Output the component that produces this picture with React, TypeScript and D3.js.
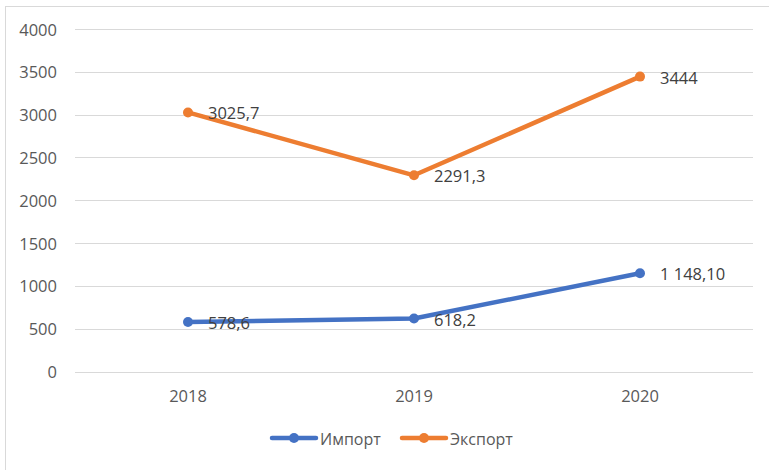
import React from "react";
import * as d3 from "d3";

const years = ["2018", "2019", "2020"];
const importValues = [578.6, 618.2, 1148.1];
const exportValues = [3025.7, 2291.3, 3444];
const importLabels = ["578,6", "618,2", "1 148,10"];
const exportLabels = ["3025,7", "2291,3", "3444"];
const yTicks = [0, 500, 1000, 1500, 2000, 2500, 3000, 3500, 4000];
const seriesNames = ["Импорт", "Экспорт"];

const W = 769;
const H = 470;
const FONT = "'Open Sans', 'Noto Sans', sans-serif";

export default function App() {
  const x = d3.scaleBand().domain(years).range([75, 753]);
  const y = d3.scaleLinear().domain([0, 4000]).range([371.5, 29]);
  const cx = (d: string) => (x(d) as number) + x.bandwidth() / 2;
  const line = d3
    .line<number>()
    .x((_, i) => cx(years[i]))
    .y((v) => y(v))
    .curve(d3.curveLinear);

  const series = [
    { name: seriesNames[0], values: importValues, labels: importLabels, color: "#4472C4" },
    { name: seriesNames[1], values: exportValues, labels: exportLabels, color: "#ED7D31" },
  ];

  const legendItems = [
    { x0: 272, name: seriesNames[0], color: "#4472C4" },
    { x0: 402, name: seriesNames[1], color: "#ED7D31" },
  ];

  return (
    <svg
      width={W}
      height={H}
      style={{ position: "absolute", left: 0, top: 0, background: "#fff" }}
      fontFamily={FONT}
    >
      <rect x={5.5} y={6.5} width={W + 10} height={H + 10} fill="#fff" stroke="#d9d9d9" strokeWidth={1} />
      {yTicks.map((t) => (
        <g key={t}>
          <line x1={75} x2={753} y1={Math.round(y(t)) + 0.5} y2={Math.round(y(t)) + 0.5} stroke="#d9d9d9" strokeWidth={1} />
          <text x={57} y={y(t) + 6.5} textAnchor="end" fontSize={16.5} fill="#595959">
            {t}
          </text>
        </g>
      ))}
      {years.map((yr) => (
        <text key={yr} x={cx(yr)} y={401.5} textAnchor="middle" fontSize={16.5} fill="#595959">
          {yr}
        </text>
      ))}
      {series.map((s) => (
        <g key={s.name}>
          <path d={line(s.values) || ""} fill="none" stroke={s.color} strokeWidth={4.5} strokeLinecap="round" strokeLinejoin="round" />
          {s.values.map((v, i) => (
            <circle key={i} cx={cx(years[i])} cy={y(v)} r={5} fill={s.color} />
          ))}
          {s.values.map((v, i) => (
            <text key={"l" + i} x={cx(years[i]) + 20} y={y(v) + 7} fontSize={16.5} fill="#404040">
              {s.labels[i]}
            </text>
          ))}
        </g>
      ))}
      {legendItems.map((l) => (
        <g key={l.name}>
          <line x1={l.x0} x2={l.x0 + 44} y1={438} y2={438} stroke={l.color} strokeWidth={4.5} strokeLinecap="round" />
          <circle cx={l.x0 + 22} cy={438} r={5} fill={l.color} />
          <text x={l.x0 + 48} y={445} fontSize={16} fill="#595959">
            {l.name}
          </text>
        </g>
      ))}
    </svg>
  );
}
